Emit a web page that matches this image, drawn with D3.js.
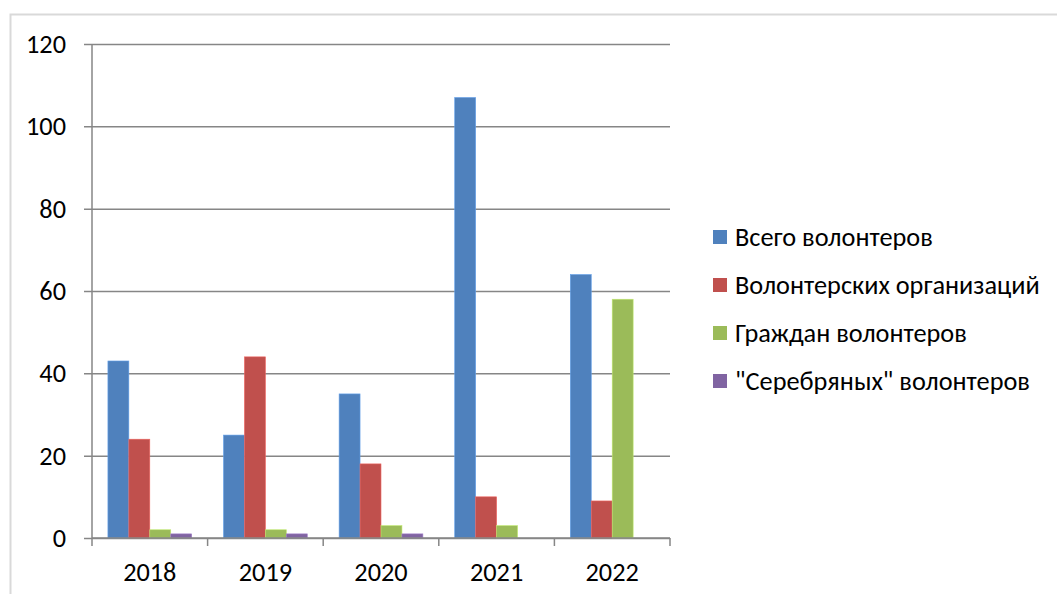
<!DOCTYPE html>
<html>
<head>
<meta charset="utf-8">
<script src="https://cdn.jsdelivr.net/npm/d3@7"></script>
<style>
  html, body { margin: 0; padding: 0; background: #fff; }
  svg { display: block; }
</style>
</head>
<body>
<svg id="chart" width="1057" height="594"></svg>
<script>
// Volunteer counts by year
const years = ["2018", "2019", "2020", "2021", "2022"];
const seriesNames = ["Всего волонтеров", "Волонтерских организаций", "Граждан волонтеров", "\"Серебряных\" волонтеров"];
const totalVolunteers = [43, 25, 35, 107, 64];
const organizations = [24, 44, 18, 10, 9];
const citizens = [2, 2, 3, 3, 58];
const silver = [1, 1, 1, 0, 0];
const yTicks = [0, 20, 40, 60, 80, 100, 120];
const colors = ["#4F81BD", "#C0504D", "#9BBB59", "#8064A2"];

const seriesValues = [totalVolunteers, organizations, citizens, silver];

const svg = d3.select("#chart");
const font = "Calibri, Carlito, 'Noto Sans', 'Liberation Sans', sans-serif";
const fontSize = 26.3;

// outer chart frame
svg.append("rect")
  .attr("x", 10.5).attr("y", 14.5)
  .attr("width", 1100).attr("height", 700)
  .attr("fill", "none").attr("stroke", "#d9d9d9").attr("stroke-width", 2);

const plot = { left: 92, right: 670, top: 44, bottom: 538 };

const x = d3.scaleBand().domain(years).range([plot.left, plot.right]).paddingInner(0).paddingOuter(0);
const inner = d3.scaleBand().domain(d3.range(seriesNames.length)).range([0, x.bandwidth()]).paddingOuter(0.76).paddingInner(0);
const y = d3.scaleLinear().domain([0, 120]).range([plot.bottom, plot.top]);

// gridlines + y ticks
const yAxis = d3.axisLeft(y).tickValues(yTicks).tickSize(plot.right - plot.left + 8).tickPadding(18);
const gy = svg.append("g").attr("transform", `translate(${plot.right},0)`).call(yAxis);
gy.select(".domain").remove();
gy.selectAll(".tick line").attr("stroke", "#868686").attr("stroke-width", 1.5);
gy.selectAll(".tick text").attr("font-family", font).attr("font-size", fontSize).attr("fill", "#000");

// y axis line
svg.append("line")
  .attr("x1", plot.left).attr("x2", plot.left)
  .attr("y1", plot.top).attr("y2", plot.bottom)
  .attr("stroke", "#868686").attr("stroke-width", 1.5);

// bars
years.forEach((yr, i) => {
  const g = svg.append("g").attr("transform", `translate(${x(yr)},0)`);
  seriesValues.forEach((vals, s) => {
    const v = vals[i];
    if (v <= 0) return;
    g.append("rect")
      .attr("x", inner(s)).attr("y", y(v))
      .attr("width", inner.bandwidth()).attr("height", y(0) - y(v))
      .attr("fill", colors[s])
      .attr("stroke", d3.color(colors[s]).brighter(0.6)).attr("stroke-width", 0.6);
  });
});

// x axis
svg.append("line")
  .attr("x1", plot.left).attr("x2", plot.right)
  .attr("y1", plot.bottom).attr("y2", plot.bottom)
  .attr("stroke", "#868686").attr("stroke-width", 1.5);
const bounds = years.map(d => x(d)).concat([plot.right]);
svg.selectAll(".xtick").data(bounds).join("line")
  .attr("x1", d => d).attr("x2", d => d)
  .attr("y1", plot.bottom).attr("y2", plot.bottom + 8)
  .attr("stroke", "#868686").attr("stroke-width", 1.5);
svg.selectAll(".xlabel").data(years).join("text")
  .attr("x", d => x(d) + x.bandwidth() / 2)
  .attr("y", 581)
  .attr("text-anchor", "middle")
  .attr("font-family", font).attr("font-size", fontSize).attr("fill", "#000")
  .text(d => d);

// legend
const legend = svg.append("g").attr("transform", "translate(713,0)");
seriesNames.forEach((name, s) => {
  const cy = 237 + s * 48;
  legend.append("rect").attr("x", 0).attr("y", cy - 7).attr("width", 14).attr("height", 14).attr("fill", colors[s]);
  legend.append("text")
    .attr("x", 22).attr("y", cy + 8.5)
    .attr("font-family", font).attr("font-size", fontSize).attr("fill", "#000")
    .text(name);
});
</script>
</body>
</html>
